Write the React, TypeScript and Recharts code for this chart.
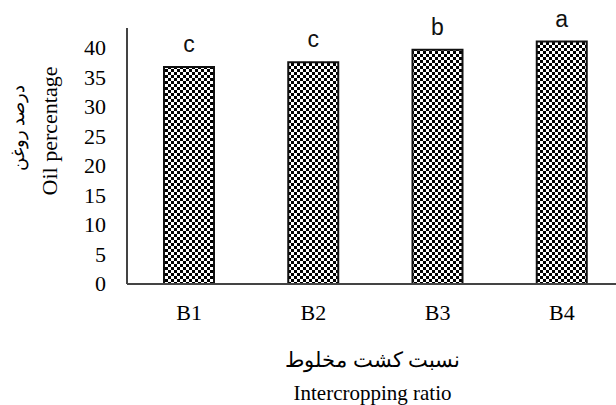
import React from 'react';
import { BarChart, Bar, XAxis, YAxis, LabelList, Label } from 'recharts';

const categories = ['B1', 'B2', 'B3', 'B4'];
const oilPercent = [36.8, 37.6, 39.7, 41.1];
const letters = ['c', 'c', 'b', 'a'];
const yTicks = [0, 5, 10, 15, 20, 25, 30, 35, 40];

const data = categories.map((name, i) => ({
  name,
  oil: oilPercent[i],
  letter: letters[i],
}));

const serif = '"Liberation Serif", "Times New Roman", serif';

const YTick = (props: any) => {
  const { x, y, payload } = props;
  return (
    <text x={x} y={y} dy={7} textAnchor="end" fontSize={22} fill="#000" fontFamily={serif}>
      {payload.value}
    </text>
  );
};

const XTick = (props: any) => {
  const { x, y, payload } = props;
  return (
    <text x={x} y={y} dy={16} textAnchor="middle" fontSize={22} fill="#000" fontFamily={serif}>
      {payload.value}
    </text>
  );
};

const XTitle = (props: any) => {
  const { x, y, width } = props.viewBox;
  const cx = x + width / 2 - 3;
  return (
    <g>
      <text x={cx} y={y + 83} textAnchor="middle" fontSize={21} fill="#000" fontFamily={serif} direction="rtl">
        نسبت کشت مخلوط
      </text>
      <text x={cx} y={y + 116} textAnchor="middle" fontSize={21} fill="#000" fontFamily={serif}>
        Intercropping ratio
      </text>
    </g>
  );
};

const YTitle = (props: any) => {
  const { y } = props.viewBox;
  const cy1 = y + 103;
  const cy2 = y + 100;
  return (
    <g>
      <text x={57} y={cy1} transform={`rotate(-90, 57, ${cy1})`} textAnchor="middle" fontSize={22} fill="#000" fontFamily={serif}>
        Oil percentage
      </text>
      <text x={24} y={cy2} transform={`rotate(-90, 24, ${cy2})`} textAnchor="middle" fontSize={18} fill="#000" fontFamily={serif} direction="rtl">
        درصد روغن
      </text>
    </g>
  );
};

const App: React.FC = () => {
  return (
    <div style={{ position: 'absolute', left: 0, top: 0, width: 616, height: 405, overflow: 'hidden', background: '#fff' }}>
      <BarChart width={632} height={405} data={data} margin={{ top: 28, right: 8, left: 0, bottom: 0 }}>
        <defs>
          <pattern id="checker" width={6} height={6} patternUnits="userSpaceOnUse">
            <rect width={6} height={6} fill="#fff" />
            <rect x={0} y={0} width={3} height={3} fill="#000" />
            <rect x={3} y={3} width={3} height={3} fill="#000" />
          </pattern>
        </defs>
        <XAxis
          dataKey="name"
          height={121}
          axisLine={{ stroke: '#444', strokeWidth: 2 }}
          tickLine={false}
          tickMargin={14}
          tick={<XTick />}
        >
          <Label content={XTitle} />
        </XAxis>
        <YAxis
          width={127}
          domain={[0, 43.4]}
          ticks={yTicks}
          interval={0}
          axisLine={{ stroke: '#444', strokeWidth: 2 }}
          tickLine={false}
          tickMargin={15}
          tick={<YTick />}
        >
          <Label content={YTitle} />
        </YAxis>
        <Bar dataKey="oil" barSize={50} fill="url(#checker)" stroke="#111" strokeWidth={2} isAnimationActive={false}>
          <LabelList
            dataKey="letter"
            position="top"
            offset={15}
            style={{ fontSize: 23, fill: '#111', fontFamily: '"Liberation Sans", Arial, sans-serif' }}
          />
        </Bar>
      </BarChart>
    </div>
  );
};

export default App;
